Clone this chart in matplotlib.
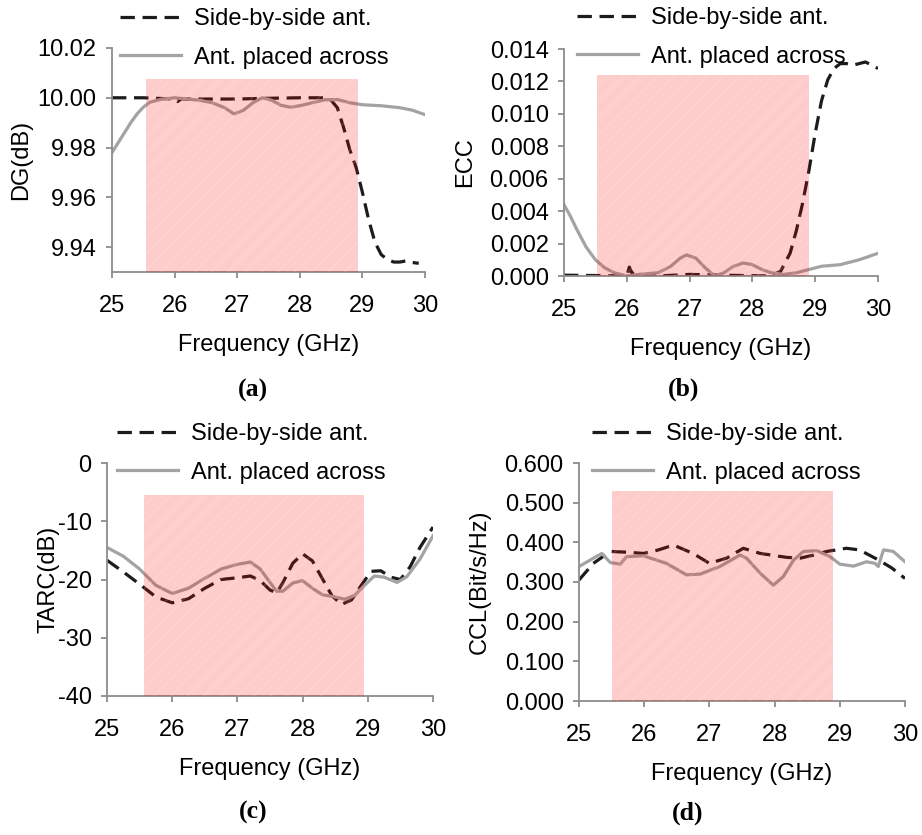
import matplotlib
matplotlib.use("Agg")
import matplotlib.pyplot as plt
from matplotlib.patches import Rectangle

plt.rcParams['font.family'] = ['Liberation Sans', 'DejaVu Sans']
plt.rcParams['hatch.linewidth'] = 1.2

# ---------------- data ----------------
series_labels = ["Side-by-side ant.", "Ant. placed across"]
xticks = [25, 26, 27, 28, 29, 30]

# (a) Diversity gain
fa_s = [25.0, 25.5, 26.0, 26.05, 26.1, 26.5, 27.0, 27.5, 28.0, 28.4, 28.5, 28.6, 28.7, 28.8,
        28.9, 29.0, 29.1, 29.2, 29.3, 29.4, 29.5, 29.6, 29.7, 29.8, 29.9]
dg_s = [10.000, 10.000, 9.9995, 9.9985, 9.9995, 9.9995, 9.9995, 9.9998, 10.000, 10.000, 9.9990,
        9.9960, 9.9880, 9.9790, 9.9720, 9.9620, 9.9510, 9.9420, 9.9370, 9.9350, 9.9340, 9.9340,
        9.9345, 9.9338, 9.9335]
fa_a = [25.0, 25.1, 25.2, 25.3, 25.4, 25.5, 25.6, 25.8, 26.0, 26.2, 26.4, 26.6, 26.8, 26.95,
        27.1, 27.25, 27.4, 27.55, 27.7, 27.85, 28.0, 28.2, 28.4, 28.6, 28.8, 29.0, 29.3, 29.6,
        29.8, 30.0]
dg_a = [9.978, 9.982, 9.986, 9.990, 9.9935, 9.9962, 9.9982, 9.9995, 10.000, 9.9995, 9.9990,
        9.9980, 9.9960, 9.9935, 9.9950, 9.9980, 10.000, 9.9990, 9.9970, 9.9962, 9.9968, 9.9980,
        9.9992, 9.9993, 9.9980, 9.9972, 9.9968, 9.9960, 9.9950, 9.9932]

# (b) ECC
fb_s = [25.0, 25.5, 26.0, 26.04, 26.08, 26.2, 26.5, 27.0, 27.5, 28.0, 28.3, 28.45, 28.6, 28.7,
        28.8, 28.9, 29.0, 29.1, 29.2, 29.3, 29.4, 29.5, 29.6, 29.7, 29.8, 29.9, 30.0]
ecc_s = [0.00005, 0.00003, 0.0000, 0.00055, 0.0002, 0.00005, 0.0000, 0.0001, 0.00005, 0.00002,
         0.0000, 0.0003, 0.0014, 0.0028, 0.0045, 0.0065, 0.0088, 0.0108, 0.0121, 0.0128, 0.0131,
         0.0131, 0.0130, 0.0131, 0.0132, 0.0130, 0.0128]
fb_a = [25.0, 25.1, 25.2, 25.35, 25.5, 25.65, 25.8, 26.0, 26.2, 26.5, 26.7, 26.85, 26.95, 27.1,
        27.25, 27.4, 27.55, 27.7, 27.85, 28.0, 28.15, 28.3, 28.5, 28.7, 28.9, 29.1, 29.4, 29.7,
        30.0]
ecc_a = [0.0044, 0.0037, 0.0029, 0.0018, 0.0010, 0.0005, 0.0002, 0.0000, 0.0001, 0.0002, 0.0006,
         0.0011, 0.0013, 0.0011, 0.0005, 0.0000, 0.0002, 0.0006, 0.0008, 0.0007, 0.0004, 0.0002,
         0.0001, 0.0002, 0.0004, 0.0006, 0.0007, 0.0010, 0.0014]

# (c) TARC
fc_s = [25.0, 25.25, 25.5, 25.75, 26.0, 26.25, 26.5, 26.75, 27.0, 27.2, 27.35, 27.5, 27.6, 27.7,
        27.85, 28.0, 28.15, 28.3, 28.45, 28.6, 28.75, 28.9, 29.05, 29.2, 29.35, 29.5, 29.65,
        29.8, 30.0]
tarc_s = [-16.7, -18.7, -20.8, -23.0, -24.0, -23.3, -21.5, -20.0, -19.7, -19.4, -20.2, -21.8,
          -22.3, -20.5, -17.2, -15.6, -16.8, -19.8, -22.8, -24.3, -23.5, -21.0, -18.6, -18.5,
          -19.6, -20.0, -17.8, -14.5, -11.0]
fc_a = [25.0, 25.25, 25.5, 25.75, 26.0, 26.25, 26.5, 26.75, 27.0, 27.2, 27.35, 27.5, 27.6, 27.7,
        27.85, 28.0, 28.15, 28.3, 28.5, 28.65, 28.8, 28.95, 29.1, 29.25, 29.45, 29.6, 29.8, 30.0]
tarc_a = [-14.5, -16.0, -18.2, -21.0, -22.4, -21.5, -19.8, -18.2, -17.4, -17.0, -18.2, -20.5,
          -22.0, -22.0, -20.6, -20.2, -21.5, -22.6, -23.0, -23.4, -22.7, -21.0, -19.4, -19.6,
          -20.5, -19.5, -16.5, -12.5]

# (d) CCL
fd_s = [25.0, 25.22, 25.48, 25.75, 25.99, 26.2, 26.45, 26.75, 27.0, 27.26, 27.52, 27.78, 28.19,
        28.39, 28.6, 28.8, 29.1, 29.3, 29.6, 29.8, 30.0]
ccl_s = [0.305, 0.347, 0.377, 0.375, 0.372, 0.380, 0.393, 0.372, 0.347, 0.360, 0.385, 0.372,
         0.362, 0.360, 0.368, 0.377, 0.385, 0.381, 0.355, 0.335, 0.309]
fd_a = [25.0, 25.22, 25.35, 25.48, 25.63, 25.73, 25.99, 26.34, 26.65, 26.86, 27.16, 27.47, 27.57,
        27.78, 27.98, 28.13, 28.29, 28.44, 28.65, 28.85, 29.0, 29.21, 29.41, 29.54, 29.59, 29.67,
        29.82, 30.0]
ccl_a = [0.339, 0.360, 0.372, 0.349, 0.345, 0.364, 0.366, 0.347, 0.318, 0.320, 0.339, 0.368,
         0.360, 0.322, 0.292, 0.313, 0.355, 0.377, 0.379, 0.364, 0.345, 0.340, 0.351, 0.347,
         0.339, 0.381, 0.377, 0.351]

# shaded band (x0, x1, top)
band_a = (25.55, 28.93, 10.0076)
band_b = (25.52, 28.90, 0.0124)
band_c = (25.57, 28.94, -5.5)
band_d = (25.51, 28.90, 0.530)

# ---------------- figure ----------------
W, H = 922, 835
fig = plt.figure(figsize=(W / 100, H / 100), dpi=100)

def px_axes(l, r, t, b):
    return fig.add_axes([l / W, 1 - b / H, (r - l) / W, (b - t) / H])

DARK = '#1c1c1c'
GRAY = '#a3a3a3'
SPINE = '#8c8c8c'
FS = 17

panels = [
    dict(box=(112, 425, 48, 272), xs=(fa_s, dg_s), xa=(fa_a, dg_a), ylim=(9.93, 10.02),
         yticks=[9.94, 9.96, 9.98, 10.00, 10.02], fmt='{:.2f}', ylabel='DG(dB)', lpad=4,
         band=band_a, leg=(120, 18), tag='(a)', tagpos=(253, 390)),
    dict(box=(564, 878, 49, 276), xs=(fb_s, ecc_s), xa=(fb_a, ecc_a), ylim=(0.0, 0.014),
         yticks=[0.0, 0.002, 0.004, 0.006, 0.008, 0.010, 0.012, 0.014], fmt='{:.3f}',
         ylabel='ECC', lpad=10, band=band_b, leg=(577, 17), tag='(b)', tagpos=(684, 389)),
    dict(box=(107, 433, 463, 696), xs=(fc_s, tarc_s), xa=(fc_a, tarc_a), ylim=(-40, 0),
         yticks=[-40, -30, -20, -10, 0], fmt='{:.0f}', ylabel='TARC(dB)', lpad=-1,
         band=band_c, leg=(117, 433), tag='(c)', tagpos=(253, 812)),
    dict(box=(579, 905, 463, 701), xs=(fd_s, ccl_s), xa=(fd_a, ccl_a), ylim=(0.0, 0.6),
         yticks=[0.0, 0.1, 0.2, 0.3, 0.4, 0.5, 0.6], fmt='{:.3f}', ylabel='CCL(Bit/s/Hz)',
         lpad=10, band=band_d, leg=(592, 433), tag='(d)', tagpos=(688, 813)),
]

for p in panels:
    ax = px_axes(*p['box'])
    l1, = ax.plot(*p['xs'], color=DARK, lw=2.3, dashes=(4.5, 2.4), label=series_labels[0],
                  zorder=2)
    l2, = ax.plot(*p['xa'], color=GRAY, lw=2.3, label=series_labels[1], zorder=2)
    x0, x1, top = p['band']
    ax.add_patch(Rectangle((x0, p['ylim'][0]), x1 - x0, top - p['ylim'][0],
                           facecolor=(1, 0, 0, 0.2), edgecolor='none', lw=0, zorder=3))
    ax.add_patch(Rectangle((x0, p['ylim'][0]), x1 - x0, top - p['ylim'][0],
                           facecolor='none', edgecolor=(1, 1, 1, 0.13), lw=0, hatch='//',
                           zorder=3))
    ax.set_xlim(25, 30)
    ax.set_ylim(*p['ylim'])
    ax.set_xticks(xticks)
    ax.set_xticklabels([str(t) for t in xticks])
    ax.set_yticks(p['yticks'])
    ax.set_yticklabels([p['fmt'].format(v) for v in p['yticks']])
    for s in ['top', 'right']:
        ax.spines[s].set_visible(False)
    for s in ['left', 'bottom']:
        ax.spines[s].set_color(SPINE)
        ax.spines[s].set_linewidth(1.3)
    ax.tick_params(axis='both', colors=SPINE, labelcolor='black', labelsize=FS, length=4,
                   width=1.3)
    ax.tick_params(axis='x', pad=12.5)
    ax.tick_params(axis='y', pad=7)
    ax.set_xlabel('Frequency (GHz)', fontsize=FS, labelpad=12)
    ax.set_ylabel(p['ylabel'], fontsize=FS, labelpad=p['lpad'])
    lx, ly = p['leg']
    ax.legend(handles=[l1, l2], loc='upper left', frameon=False, fontsize=FS,
              bbox_to_anchor=(lx / W, 1 - (ly - 10) / H), bbox_transform=fig.transFigure,
              borderpad=0, borderaxespad=0, handlelength=2.6, handletextpad=0.55,
              labelspacing=0.7)
    tx, ty = p['tagpos']
    fig.text(tx / W, 1 - ty / H, p['tag'], ha='center', va='center', fontsize=18.5,
             fontweight='bold', family='Liberation Serif')

fig.savefig('out.png', dpi=100)
